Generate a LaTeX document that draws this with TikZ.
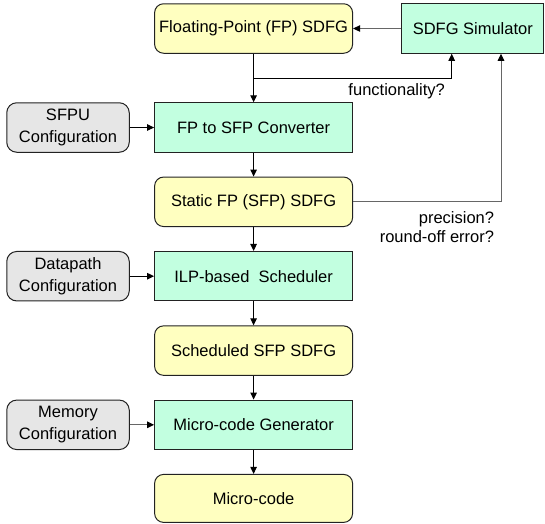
\documentclass[tikz,border=0pt]{standalone}
\usepackage{fontspec}
\setmainfont{Liberation Sans}
\usetikzlibrary{arrows.meta,calc}

\definecolor{graphfill}{HTML}{FFFFC0}
\definecolor{toolfill}{HTML}{C2FFE0}
\definecolor{conffill}{HTML}{E6E6E6}
\definecolor{edgeline}{HTML}{222222}
\definecolor{feedline}{HTML}{666666}

\tikzset{
  base/.style={draw=edgeline, line width=1pt, inner sep=0pt, align=center,
    font=\fontsize{16.5}{21.7}\selectfont},
  graphbox/.style={base, fill=graphfill, rounded corners=9pt,
    minimum width=198pt, minimum height=49.5pt},
  toolbox/.style={base, fill=toolfill,
    minimum width=198pt, minimum height=49.5pt},
  simbox/.style={base, fill=toolfill,
    minimum width=142pt, minimum height=49.5pt},
  confbox/.style={base, fill=conffill, rounded corners=10pt,
    minimum width=122.5pt, minimum height=49.5pt},
  arr/.style={-{Triangle[length=7pt,width=6.5pt,color=black]}, line width=1pt, draw=black},
  feed/.style={arr, draw=feedline},
  note/.style={inner sep=0pt, font=\fontsize{16.5}{19}\selectfont}
}

\begin{document}
\begin{tikzpicture}[x=1pt, y=-1pt]
  \useasboundingbox (0,0) rectangle (545,523);

  % main flow
  \node[graphbox] (fp)    at (253.6,28.5)  {Floating-Point (FP) SDFG};
  \node[toolbox]  (conv)  at (253.6,127.5) {FP to SFP Converter};
  \node[graphbox] (sfp)   at (253.6,201.8) {Static FP (SFP) SDFG};
  \node[toolbox]  (ilp)   at (253.6,276.2) {ILP-based~ Scheduler};
  \node[graphbox] (sched) at (253.6,350.6) {Scheduled SFP SDFG};
  \node[toolbox]  (mcg)   at (253.6,424.8) {Micro-code Generator};
  \node[graphbox, minimum height=48pt] (mc) at (253.6,498.4) {Micro-code};

  % simulator
  \node[simbox] (sim) at (472.8,28.5) {SDFG Simulator};

  % configuration inputs
  \node[confbox] (sfpu) at (68,127.5) {SFPU\\Configuration};
  \node[confbox] (dp)   at (68,276.2) {Datapath\\Configuration};
  \node[confbox] (mem)  at (68,424.8) {Memory\\Configuration};

  % flow arrows
  \draw[arr] (fp) -- (conv);
  \draw[arr] (conv) -- (sfp);
  \draw[arr] (sfp) -- (ilp);
  \draw[arr] (ilp) -- (sched);
  \draw[arr] (sched) -- (mcg);
  \draw[arr] (mcg) -- (mc);

  \draw[arr] (sfpu) -- (conv);
  \draw[arr] (dp) -- (ilp);
  \draw[feed] (mem) -- (mcg);

  % simulator loop
  \draw[feed] (sim) -- (fp);
  \coordinate (split) at ($(fp.south)!0.51!(conv.north)$);
  \draw[arr] (split) -| ([xshift=-21.1pt]sim.south);
  \draw[feed] (sfp.east) -| ([xshift=28.2pt]sim.south);

  % loop labels
  \node[note, anchor=base east] (func) at (445,95.5) {functionality?};
  \node[note, anchor=base east] (prec) at (494.3,223) {precision?};
  \node[note, anchor=base east] (roe)  at (494.3,242) {round-off error?};
\end{tikzpicture}
\end{document}
